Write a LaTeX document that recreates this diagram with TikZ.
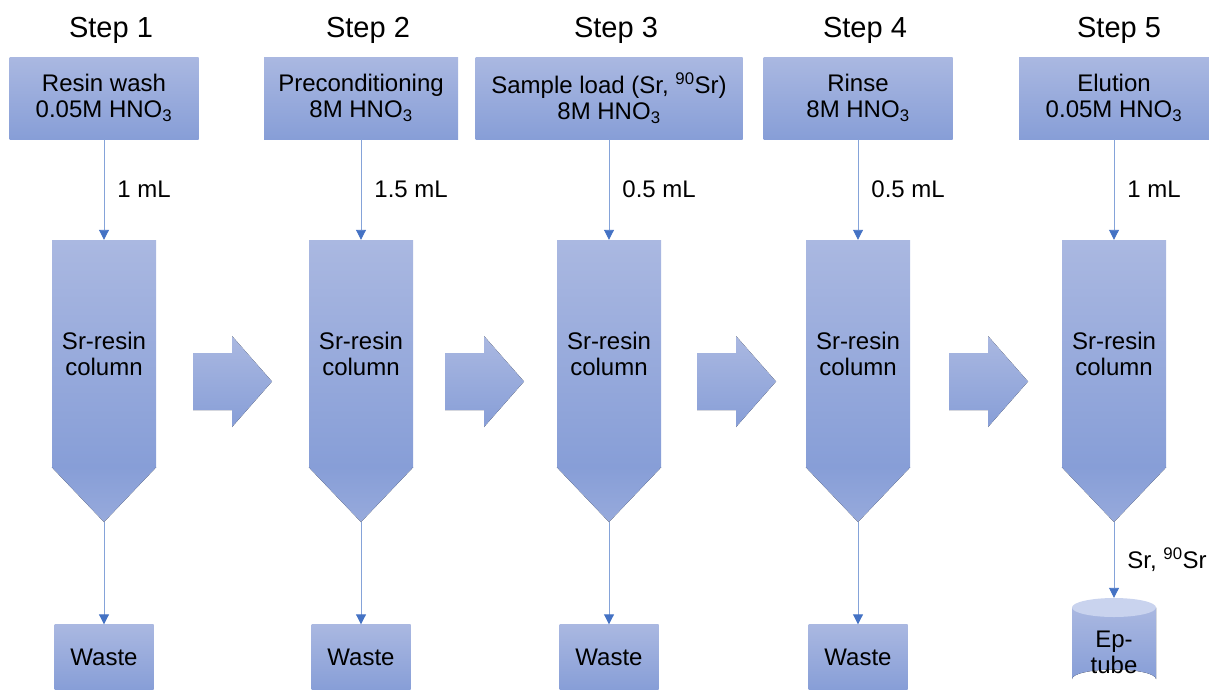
\documentclass[tikz,border=0pt]{standalone}
\usepackage{fontspec}
\setmainfont{Liberation Sans}
\usetikzlibrary{arrows.meta}
\definecolor{bluChiaro}{RGB}{170,184,225}
\definecolor{bluScuro}{RGB}{135,158,215}
\definecolor{bluTappo}{RGB}{201,211,238}
\definecolor{linea}{RGB}{68,114,196}
\begin{document}
\begin{tikzpicture}[x=1pt, y=-1pt,
    every node/.style={font=\fontsize{24}{26}\selectfont, align=center, inner sep=0pt},
    steptitle/.style={font=\fontsize{29}{34}\selectfont},
    stepbox/.style={top color=bluChiaro, bottom color=bluScuro, minimum height=82},
    column/.style={top color=bluChiaro, bottom color=bluScuro, minimum width=104, minimum height=227},
    tipfill/.style={top color=bluScuro, bottom color=bluChiaro!45!bluScuro},
    waste/.style={top color=bluChiaro, bottom color=bluScuro, minimum width=99, minimum height=65},
    bigarrow/.style={top color=bluChiaro, bottom color=bluScuro},
    flow/.style={draw=linea!65, line width=0.9pt, -{Triangle[length=10pt, width=10pt, color=linea]}},
    qty/.style={right, xshift=13}]
            \useasboundingbox (0,0) rectangle (1209,689);

            % Titoli
            \node (s1) at (111,30) [steptitle] {Step 1};
            \node (s2) at (368,30) [steptitle] {Step 2};
            \node (s3) at (616,30) [steptitle] {Step 3};
            \node (s4) at (865,30) [steptitle] {Step 4};
            \node (s5) at (1119,30) [steptitle] {Step 5};

            % Soluzioni
            \node (b1) at (104,98) [stepbox, minimum width=189] {Resin wash\\0.05M HNO\textsubscript{3}};
            \node (b2) at (361,98) [stepbox, minimum width=194] {Preconditioning\\8M HNO\textsubscript{3}};
            \node (b3) at (609,98) [stepbox, minimum width=267] {Sample load (Sr, \textsuperscript{90}Sr)\\8M HNO\textsubscript{3}};
            \node (b4) at (858,98) [stepbox, minimum width=189] {Rinse\\8M HNO\textsubscript{3}};
            \node (b5) at (1114,98) [stepbox, minimum width=190] {Elution\\0.05M HNO\textsubscript{3}};

            % Colonne
            \node (c1) at (104,353.5) [column] {Sr-resin\\column};
            \node (c2) at (361,353.5) [column] {Sr-resin\\column};
            \node (c3) at (609,353.5) [column] {Sr-resin\\column};
            \node (c4) at (858,353.5) [column] {Sr-resin\\column};
            \node (c5) at (1114,353.5) [column] {Sr-resin\\column};
            \coordinate (k1) at (104,522);
            \coordinate (k2) at (361,522);
            \coordinate (k3) at (609,522);
            \coordinate (k4) at (858,522);
            \coordinate (k5) at (1114,522);
            \fill[tipfill] (c1.south west) -- (c1.south east) -- (k1) -- cycle;
            \fill[tipfill] (c2.south west) -- (c2.south east) -- (k2) -- cycle;
            \fill[tipfill] (c3.south west) -- (c3.south east) -- (k3) -- cycle;
            \fill[tipfill] (c4.south west) -- (c4.south east) -- (k4) -- cycle;
            \fill[tipfill] (c5.south west) -- (c5.south east) -- (k5) -- cycle;

            % Frecce grandi
            \fill[bigarrow] (193,353) -- ++(39,0) -- ++(0,-17) -- ++(40,45.5) -- ++(-40,45.5) -- ++(0,-17) -- ++(-39,0) -- cycle;
            \fill[bigarrow] (445,353) -- ++(39,0) -- ++(0,-17) -- ++(40,45.5) -- ++(-40,45.5) -- ++(0,-17) -- ++(-39,0) -- cycle;
            \fill[bigarrow] (697,353) -- ++(39,0) -- ++(0,-17) -- ++(40,45.5) -- ++(-40,45.5) -- ++(0,-17) -- ++(-39,0) -- cycle;
            \fill[bigarrow] (949,353) -- ++(39,0) -- ++(0,-17) -- ++(40,45.5) -- ++(-40,45.5) -- ++(0,-17) -- ++(-39,0) -- cycle;

            % Raccolta
            \node (w1) at (104,657) [waste] {Waste};
            \node (w2) at (361,657) [waste] {Waste};
            \node (w3) at (609,657) [waste] {Waste};
            \node (w4) at (858,657) [waste] {Waste};
            \fill[top color=bluChiaro, bottom color=bluScuro] (1072,607.5) -- (1072,679) arc[start angle=180, end angle=360, x radius=42, y radius=9.5] -- (1156,607.5) -- cycle;
            \fill[bluTappo] (1114,607.5) ellipse [x radius=42, y radius=9.5];
            \node (tube) at (1114,652) [minimum width=84, minimum height=108] {Ep-\\tube};

            % Collegamenti
            \draw[flow] (b1) -- node[qty] (v1) {1 mL} (c1);
            \draw[flow] (b2) -- node[qty] (v2) {1.5 mL} (c2);
            \draw[flow] (b3) -- node[qty] (v3) {0.5 mL} (c3);
            \draw[flow] (b4) -- node[qty] (v4) {0.5 mL} (c4);
            \draw[flow] (b5) -- node[qty] (v5) {1 mL} (c5);
            \draw[flow] (k1) -- (w1);
            \draw[flow] (k2) -- (w2);
            \draw[flow] (k3) -- (w3);
            \draw[flow] (k4) -- (w4);
            \draw[flow] (k5) -- node[qty] (v6) {Sr, \textsuperscript{90}Sr} (tube);
        \end{tikzpicture}
\end{document}
